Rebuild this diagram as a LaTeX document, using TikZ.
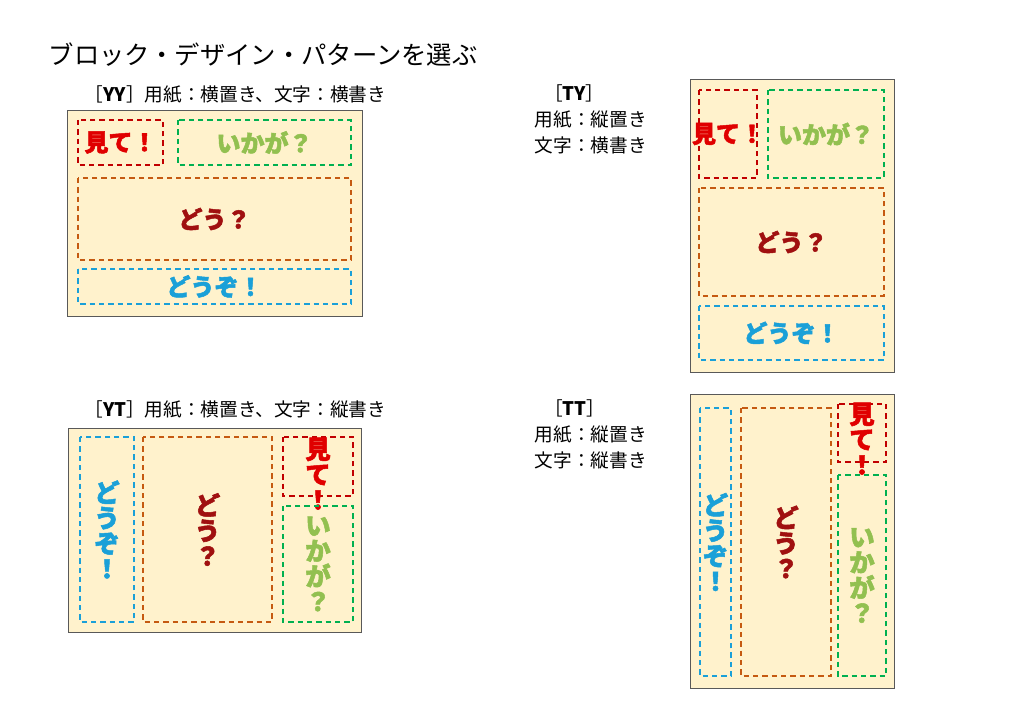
\documentclass[tikz,border=0pt]{standalone}
\usepackage{fontspec}
\setmainfont{Noto Sans CJK JP}
\newfontfamily\bfj{Noto Sans CJK JP}[FakeBold=2]
\definecolor{paper}{HTML}{FFF2CC}
\definecolor{cred}{HTML}{E00000}
\definecolor{bred}{HTML}{C00000}
\definecolor{cgreen}{HTML}{92C050}
\definecolor{bgreen}{HTML}{00B050}
\definecolor{corange}{HTML}{C55A11}
\definecolor{cdark}{HTML}{A01010}
\definecolor{cblue}{HTML}{1AA0D8}
\tikzset{
  sheet/.style={draw=gray!70!black,fill=paper,line width=0.6pt},
  blk/.style={draw=#1,dashed,line width=0.9pt,dash pattern=on 4pt off 3pt},
  txt/.style={font=\bfj\bfseries\fontsize{18}{18}\selectfont,text=#1,align=center},
  vtxt/.style={font=\bfj\bfseries\fontsize{19}{19}\selectfont,text=#1,align=center},
  lbl/.style={font=\fontsize{14}{19.5}\selectfont,anchor=west,align=left}
}
\begin{document}
\begin{tikzpicture}[x=0.75pt,y=-0.75pt]
\useasboundingbox (0,0) rectangle (1024,709);
\node[anchor=west,font=\fontsize{19}{19}\selectfont] (title) at (44,55) {ブロック・デザイン・パターンを選ぶ};
% YY
\node[lbl] (l1) at (80,95) {［\textbf{YY}］用紙：横置き、文字：横書き};
\draw[sheet] (67,110) rectangle (362,316);
\draw[blk=bred] (78,120) rectangle node[txt=cred]{見て！} (163,165);
\draw[blk=bgreen] (178,120) rectangle node[txt=cgreen]{いかが？} (351,165);
\draw[blk=corange] (78,178) rectangle node[txt=cdark]{どう？} (351,260);
\draw[blk=cblue] (78,269) rectangle node[txt=cblue]{どうぞ！} (351,304);
% TY
\node[lbl] (l2) at (530,119) {\hspace*{0.5em}［\textbf{TY}］\\用紙：縦置き\\文字：横書き};
\draw[sheet] (690,79) rectangle (894,372);
\draw[blk=bred] (699,90) rectangle (757,178);
\node[txt=cred] (m2) at (728,134) {見て！};
\draw[blk=bgreen] (768,90) rectangle node[txt=cgreen]{いかが？} (884,178);
\draw[blk=corange] (699,188) rectangle node[txt=cdark]{どう？} (884,296);
\draw[blk=cblue] (699,306) rectangle node[txt=cblue]{どうぞ！} (884,360);
% YT
\node[lbl] (l3) at (80,410) {［\textbf{YT}］用紙：横置き、文字：縦書き};
\draw[sheet] (68,428) rectangle (361,632);
\draw[blk=cblue] (80,437) rectangle node[vtxt=cblue]{ど\\う\\ぞ\\！} (134,622);
\draw[blk=corange] (143,437) rectangle node[vtxt=cdark]{ど\\う\\？} (272,622);
\draw[blk=bred] (283,437) rectangle (353,496);
\node[vtxt=cred,anchor=north] (m3) at (318,433) {見\\て\\！};
\draw[blk=bgreen] (283,506) rectangle node[vtxt=cgreen]{い\\か\\が\\？} (353,622);
% TT
\node[lbl] (l4) at (530,434) {\hspace*{0.5em}［\textbf{TT}］\\用紙：縦置き\\文字：縦書き};
\draw[sheet] (690,394) rectangle (894,688);
\draw[blk=cblue] (700,408) rectangle node[vtxt=cblue]{ど\\う\\ぞ\\！} (731,676);
\draw[blk=corange] (741,408) rectangle node[vtxt=cdark]{ど\\う\\？} (831,676);
\draw[blk=bred] (838,404) rectangle (886,462);
\node[vtxt=cred,anchor=north] (m4) at (862,398) {見\\て\\！};
\draw[blk=bgreen] (838,475) rectangle node[vtxt=cgreen]{い\\か\\が\\？} (886,676);
\end{tikzpicture}
\end{document}
